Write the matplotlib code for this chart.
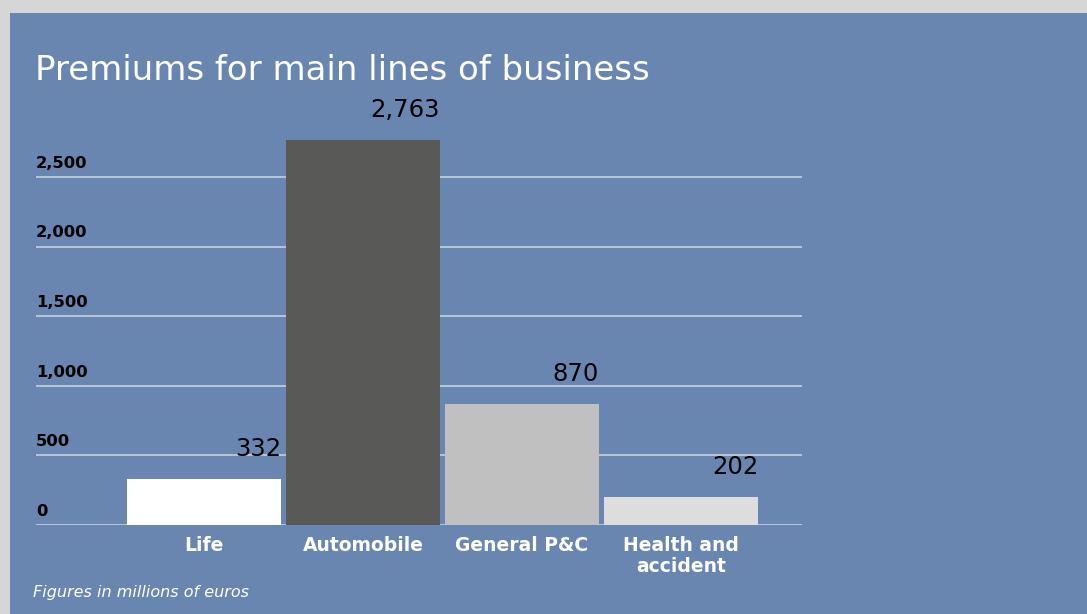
import matplotlib.pyplot as plt
from matplotlib.patches import Rectangle
from matplotlib.transforms import blended_transform_factory

# Prämien nach Sparte, in Mio. Euro
categories = ['Life', 'Automobile', 'General P&C', 'Health and\naccident']
premiums = [332, 2763, 870, 202]
value_labels = ['332', '2,763', '870', '202']
bar_colors = ['#ffffff', '#595958', '#c0c0c0', '#dddddd']
yticks = [0, 500, 1000, 1500, 2000, 2500]
ytick_labels = ['0', '500', '1,000', '1,500', '2,000', '2,500']

panel = '#6886af'
grid = '#cdd6e4'
plt.rcParams['font.family'] = ['DejaVu Sans']

W, H = 1087, 614
fig = plt.figure(figsize=(W / 100, H / 100), dpi=100, facecolor='#d6d6d6')

# blaue Fläche hinter dem Diagramm
fig.patches.append(Rectangle((10 / W, 0), 1 - 10 / W, 1 - 13 / H,
                             transform=fig.transFigure, facecolor=panel,
                             edgecolor='none', zorder=-5))

ax = fig.add_axes([36 / W, (H - 525) / H, 766 / W, 417.6 / H], zorder=2)
ax.set_facecolor('none')
ax.set_xlim(-1.0566, 3.761)
ax.set_ylim(0, 3000)

x = range(len(categories))
ax.bar(x, premiums, width=0.9686, color=bar_colors, zorder=3)

for yv in yticks:
    ax.axhline(yv, color=grid, lw=1.1, zorder=1)

trans = blended_transform_factory(ax.transAxes, ax.transData)
for yv, lab in zip(yticks, ytick_labels):
    ax.annotate(lab, (0, yv), xycoords=trans, xytext=(0, 4.5),
                textcoords='offset points', ha='left', va='bottom',
                fontsize=11.8, fontweight='bold', color='black')

for xi, v, lab in zip(x, premiums, value_labels):
    ax.annotate(lab, (xi + 0.9686 / 2, v), xytext=(0, 13),
                textcoords='offset points', ha='right', va='bottom',
                fontsize=17.5, color='black')

for xi, cat in zip(x, categories):
    ax.annotate(cat, (xi, 0), xytext=(0, -8), textcoords='offset points',
                ha='center', va='top', fontsize=13.5, fontweight='bold',
                color='white', linespacing=1.1)

for s in ax.spines.values():
    s.set_visible(False)
ax.set_xticks([])
ax.set_yticks([])

fig.text(35 / W, 1 - 70 / H, 'Premiums for main lines of business',
         fontsize=24.5, color='white', ha='left', va='center')
fig.text(33 / W, 1 - 592 / H, 'Figures in millions of euros',
         fontsize=11.5, style='italic', color='white', ha='left', va='center')

fig.savefig('out.png', dpi=100, facecolor=fig.get_facecolor())
